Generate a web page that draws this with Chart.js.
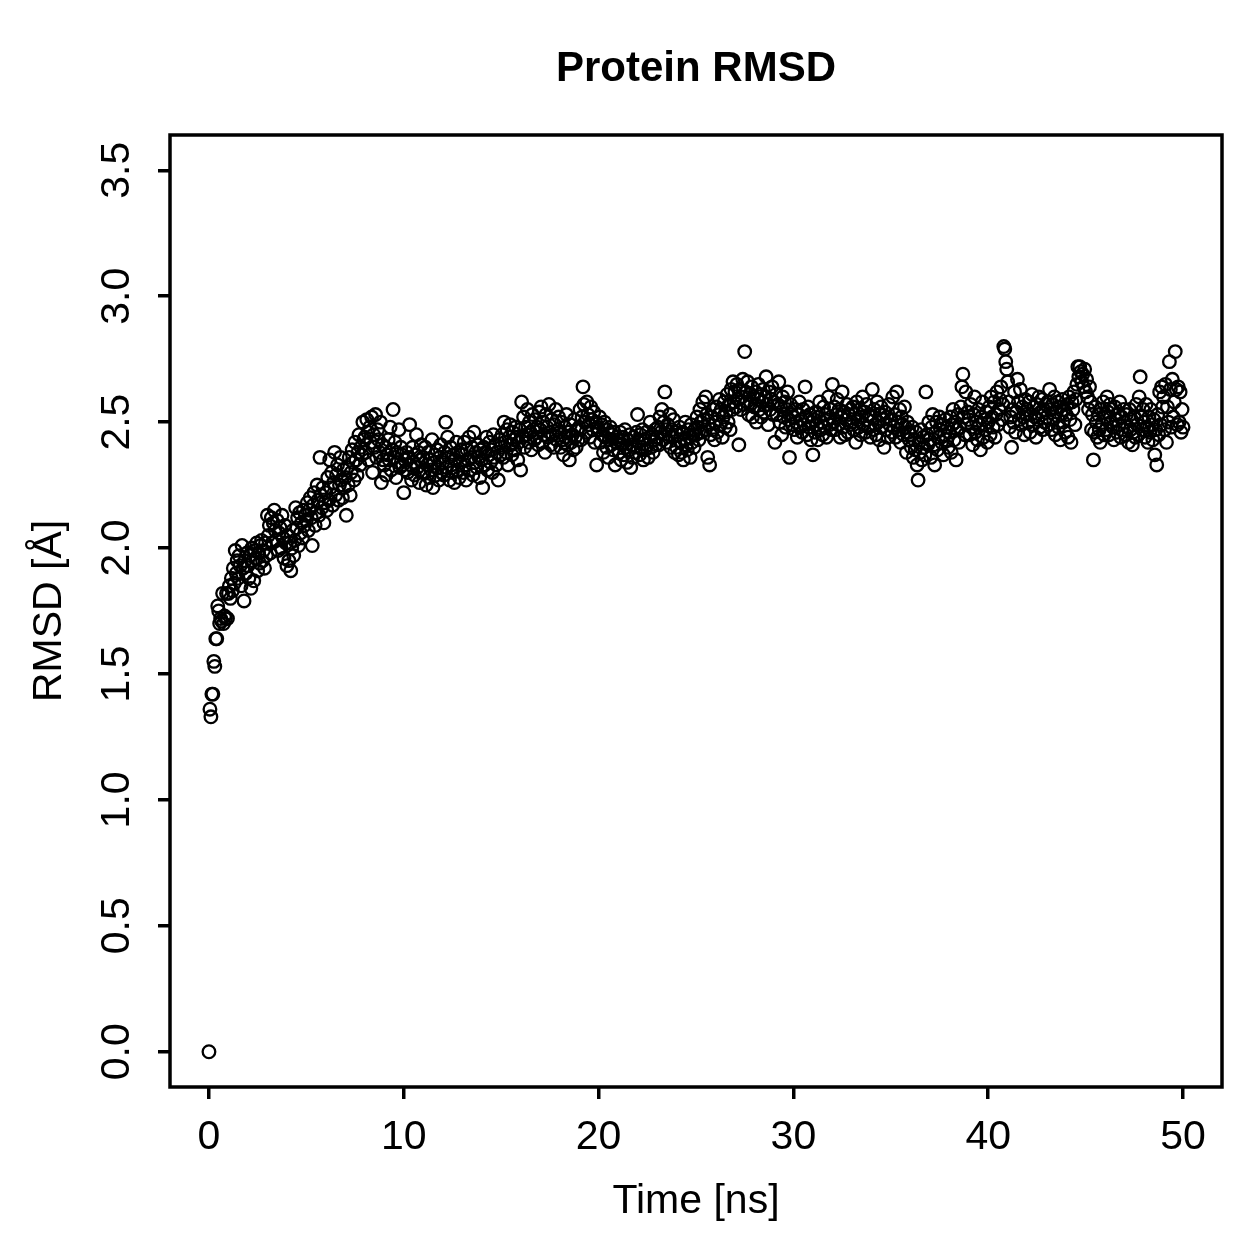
<!DOCTYPE html>
<html>
<head>
<meta charset="utf-8">
<script src="https://cdn.jsdelivr.net/npm/chart.js@4"></script>
<style>
  body { margin: 0; background: #fff; }
  #wrap { width: 1259px; height: 1259px; }
</style>
</head>
<body>
<div id="wrap"><canvas id="rmsdChart" width="1259" height="1259"></canvas></div>
<script>
// Protein RMSD trajectory, one frame every 0.05 ns
const timeStepNs = 0.05;

const rmsd0to10 = [
  0.00,1.36,1.33,1.42,1.42,1.55,1.53,1.64,1.64,1.77,1.75,1.70,1.72,1.71,1.82,1.70,1.73,1.72,1.82,1.72,
  1.82,1.85,1.80,1.88,1.83,1.92,1.86,1.99,1.90,1.95,1.88,1.97,1.93,1.85,2.01,1.92,1.79,1.95,1.90,1.98,
  1.93,1.88,1.97,1.84,2.00,1.95,1.87,1.99,1.96,2.02,1.91,1.98,1.94,2.01,2.03,1.95,1.99,1.92,2.02,1.97,
  2.13,2.05,2.09,1.98,2.12,2.02,2.10,2.15,2.07,2.03,2.11,1.99,2.06,2.08,2.00,2.13,2.04,1.96,2.09,2.02,
  1.93,2.05,1.95,2.02,1.91,2.00,2.07,1.97,2.03,2.16,2.08,2.12,2.01,2.14,2.06,2.10,2.04,2.15,2.09,2.13,
  2.11,2.18,2.07,2.15,2.20,2.12,2.01,2.17,2.22,2.09,2.14,2.25,2.19,2.13,2.36,2.21,2.16,2.24,2.10,2.18,
  2.22,2.15,2.28,2.19,2.35,2.24,2.30,2.17,2.26,2.38,2.21,2.29,2.33,2.19,2.25,2.36,2.27,2.20,2.31,2.24,
  2.28,2.13,2.32,2.25,2.36,2.21,2.30,2.39,2.34,2.27,2.42,2.35,2.29,2.38,2.45,2.33,2.40,2.37,2.50,2.43,
  2.44,2.38,2.51,2.46,2.35,2.48,2.42,2.52,2.30,2.45,2.40,2.53,2.36,2.47,2.43,2.38,2.50,2.26,2.41,2.35,
  2.33,2.40,2.29,2.37,2.43,2.35,2.48,2.31,2.39,2.55,2.36,2.42,2.28,2.38,2.34,2.47,2.32,2.40,2.37,2.33
];
const rmsd10to20 = [
  2.22,2.35,2.31,2.38,2.30,2.36,2.49,2.33,2.27,2.40,2.34,2.29,2.37,2.45,2.32,2.38,2.26,2.35,2.41,2.30,
  2.36,2.30,2.40,2.25,2.33,2.38,2.28,2.35,2.31,2.43,2.24,2.34,2.37,2.29,2.39,2.32,2.27,2.36,2.41,2.30,
  2.34,2.29,2.38,2.50,2.32,2.44,2.36,2.27,2.40,2.33,2.30,2.37,2.26,2.35,2.42,2.31,2.38,2.28,2.34,2.39,
  2.37,2.30,2.42,2.33,2.27,2.39,2.35,2.44,2.31,2.36,2.40,2.29,2.46,2.34,2.38,2.32,2.41,2.36,2.28,2.39,
  2.35,2.24,2.40,2.33,2.38,2.44,2.31,2.37,2.42,2.34,2.39,2.30,2.45,2.36,2.41,2.33,2.38,2.27,2.43,2.37,
  2.40,2.45,2.36,2.50,2.42,2.38,2.47,2.33,2.44,2.49,2.41,2.37,2.46,2.43,2.39,2.48,2.44,2.35,2.42,2.47,
  2.31,2.58,2.44,2.52,2.40,2.48,2.45,2.55,2.42,2.50,2.46,2.39,2.53,2.47,2.43,2.51,2.44,2.48,2.41,2.54,
  2.47,2.56,2.42,2.50,2.45,2.38,2.53,2.48,2.44,2.57,2.46,2.41,2.51,2.45,2.40,2.49,2.55,2.43,2.47,2.52,
  2.46,2.40,2.50,2.43,2.37,2.48,2.44,2.53,2.41,2.46,2.35,2.49,2.42,2.45,2.39,2.51,2.44,2.40,2.47,2.43,
  2.48,2.55,2.43,2.52,2.64,2.57,2.50,2.46,2.58,2.53,2.49,2.44,2.56,2.51,2.47,2.54,2.42,2.50,2.33,2.48
];
const rmsd20to30 = [
  2.47,2.52,2.42,2.49,2.45,2.38,2.50,2.44,2.40,2.47,2.36,2.43,2.48,2.41,2.45,2.39,2.46,2.33,2.42,2.44,
  2.43,2.38,2.46,2.35,2.41,2.44,2.37,2.47,2.40,2.34,2.43,2.39,2.45,2.32,2.41,2.36,2.44,2.40,2.38,2.46,
  2.53,2.42,2.37,2.45,2.40,2.47,2.35,2.43,2.39,2.46,2.41,2.36,2.44,2.50,2.40,2.45,2.38,2.43,2.47,2.41,
  2.44,2.48,2.41,2.52,2.46,2.55,2.43,2.50,2.62,2.47,2.42,2.49,2.45,2.53,2.40,2.47,2.44,2.51,2.38,2.46,
  2.40,2.45,2.37,2.48,2.42,2.38,2.46,2.35,2.43,2.50,2.41,2.39,2.47,2.44,2.36,2.49,2.42,2.45,2.40,2.47,
  2.45,2.52,2.48,2.43,2.55,2.50,2.46,2.58,2.51,2.47,2.60,2.53,2.36,2.49,2.33,2.45,2.52,2.47,2.55,2.43,
  2.50,2.56,2.46,2.53,2.59,2.49,2.55,2.44,2.52,2.58,2.48,2.54,2.61,2.50,2.57,2.47,2.63,2.55,2.66,2.58,
  2.62,2.56,2.65,2.59,2.41,2.63,2.55,2.60,2.67,2.57,2.78,2.62,2.58,2.66,2.53,2.61,2.57,2.64,2.52,2.60,
  2.56,2.62,2.50,2.59,2.65,2.55,2.61,2.52,2.58,2.63,2.54,2.60,2.68,2.57,2.49,2.62,2.55,2.59,2.64,2.53,
  2.58,2.42,2.61,2.53,2.57,2.66,2.50,2.56,2.45,2.60,2.52,2.58,2.48,2.55,2.62,2.51,2.36,2.57,2.53,2.49
];
const rmsd30to40 = [
  2.52,2.47,2.55,2.50,2.44,2.53,2.58,2.48,2.51,2.46,2.55,2.49,2.64,2.52,2.45,2.56,2.48,2.53,2.43,2.50,
  2.37,2.51,2.46,2.54,2.49,2.43,2.52,2.58,2.47,2.50,2.45,2.56,2.48,2.53,2.44,2.51,2.60,2.49,2.55,2.47,
  2.65,2.50,2.56,2.47,2.53,2.59,2.49,2.55,2.44,2.52,2.62,2.48,2.54,2.45,2.51,2.57,2.46,2.53,2.49,2.55,
  2.50,2.56,2.47,2.53,2.42,2.58,2.51,2.48,2.55,2.45,2.52,2.60,2.49,2.54,2.46,2.57,2.51,2.48,2.53,2.44,
  2.52,2.63,2.47,2.55,2.49,2.45,2.58,2.50,2.43,2.53,2.56,2.48,2.51,2.40,2.54,2.47,2.52,2.44,2.57,2.49,
  2.51,2.46,2.60,2.48,2.53,2.44,2.62,2.50,2.47,2.55,2.42,2.52,2.49,2.45,2.56,2.48,2.38,2.50,2.46,2.43,
  2.45,2.40,2.48,2.36,2.43,2.39,2.46,2.33,2.27,2.42,2.38,2.47,2.35,2.44,2.40,2.37,2.62,2.45,2.41,2.50,
  2.43,2.36,2.48,2.53,2.41,2.33,2.46,2.50,2.39,2.44,2.52,2.47,2.42,2.49,2.37,2.45,2.51,2.43,2.48,2.40,
  2.46,2.52,2.38,2.49,2.55,2.43,2.50,2.35,2.47,2.53,2.42,2.48,2.56,2.64,2.69,2.52,2.45,2.62,2.49,2.54,
  2.51,2.45,2.57,2.48,2.41,2.53,2.60,2.46,2.50,2.43,2.55,2.49,2.39,2.52,2.58,2.44,2.51,2.47,2.54,2.42
];
const rmsd40to50 = [
  2.50,2.56,2.45,2.60,2.52,2.48,2.58,2.44,2.53,2.62,2.49,2.55,2.59,2.64,2.51,2.57,2.80,2.79,2.74,2.71,
  2.66,2.58,2.48,2.52,2.40,2.55,2.50,2.62,2.46,2.54,2.67,2.58,2.51,2.63,2.49,2.56,2.52,2.45,2.59,2.53,
  2.55,2.50,2.58,2.46,2.53,2.61,2.49,2.56,2.52,2.44,2.57,2.51,2.60,2.48,2.54,2.59,2.47,2.55,2.50,2.57,
  2.52,2.58,2.49,2.63,2.55,2.47,2.57,2.51,2.60,2.45,2.54,2.58,2.48,2.56,2.43,2.53,2.59,2.50,2.55,2.46,
  2.53,2.57,2.44,2.60,2.51,2.42,2.58,2.55,2.62,2.49,2.59,2.65,2.72,2.68,2.72,2.70,2.66,2.69,2.64,2.71,
  2.62,2.67,2.60,2.55,2.64,2.58,2.47,2.53,2.35,2.46,2.56,2.50,2.44,2.53,2.47,2.42,2.55,2.49,2.58,2.45,
  2.52,2.47,2.60,2.54,2.45,2.57,2.50,2.55,2.48,2.43,2.56,2.51,2.46,2.53,2.49,2.58,2.44,2.52,2.47,2.55,
  2.50,2.45,2.53,2.48,2.42,2.55,2.47,2.51,2.41,2.46,2.52,2.44,2.57,2.49,2.45,2.60,2.68,2.52,2.47,2.55,
  2.50,2.44,2.57,2.48,2.42,2.52,2.46,2.55,2.49,2.43,2.51,2.37,2.47,2.33,2.53,2.45,2.62,2.49,2.64,2.56,
  2.60,2.47,2.65,2.42,2.56,2.50,2.74,2.63,2.48,2.67,2.52,2.58,2.78,2.63,2.49,2.64,2.50,2.62,2.46,2.55,
  2.48
];

const xTicks = [0, 10, 20, 30, 40, 50];
const yTicks = [0.0, 0.5, 1.0, 1.5, 2.0, 2.5, 3.0, 3.5];

const rmsd = [...rmsd0to10, ...rmsd10to20, ...rmsd20to30, ...rmsd30to40, ...rmsd40to50];
const points = rmsd.map((v, i) => ({ x: +(i * timeStepNs).toFixed(2), y: v }));

const FONT = '"Liberation Sans", Arial, Helvetica, sans-serif';

// frame, tick labels and titles in R base-graphics style
const rStylePlot = {
    id: 'rStylePlot',
    afterDraw(chart) {
        const { ctx, chartArea: a, scales: { x, y } } = chart;
        ctx.save();
        ctx.strokeStyle = '#000';
        ctx.lineWidth = 3.5;
        ctx.strokeRect(a.left, a.top, a.right - a.left, a.bottom - a.top);

        ctx.fillStyle = '#000';
        ctx.font = '41px ' + FONT;
        ctx.textAlign = 'center';
        ctx.textBaseline = 'middle';
        xTicks.forEach(v => ctx.fillText(String(v), x.getPixelForValue(v), 1138));
        yTicks.forEach(v => {
            ctx.save();
            ctx.translate(118, y.getPixelForValue(v));
            ctx.rotate(-Math.PI / 2);
            ctx.fillText(v.toFixed(1), 0, 0);
            ctx.restore();
        });

        const midX = (a.left + a.right) / 2;
        const midY = (a.top + a.bottom) / 2;
        ctx.fillText('Time [ns]', midX, 1202);
        ctx.save();
        ctx.translate(50, midY);
        ctx.rotate(-Math.PI / 2);
        ctx.fillText('RMSD [Å]', 0, 0);
        ctx.restore();

        ctx.font = 'bold 42px ' + FONT;
        ctx.fillText('Protein RMSD', midX, 69);
        ctx.restore();
    }
};

const chart = new Chart(document.getElementById('rmsdChart').getContext('2d'), {
    type: 'scatter',
    data: {
        datasets: [{
            data: points,
            showLine: false,
            pointStyle: 'circle',
            pointRadius: 6.3,
            pointBorderWidth: 2.3,
            pointBackgroundColor: 'rgba(0,0,0,0)',
            pointBorderColor: '#000'
        }]
    },
    options: {
        responsive: false,
        animation: false,
        layout: { padding: { top: 135, right: 37, left: 0, bottom: 0 } },
        scales: {
            x: {
                type: 'linear',
                min: -2,
                max: 52,
                afterFit(scale) { scale.height = 172; },
                afterBuildTicks(scale) { scale.ticks = xTicks.map(v => ({ value: v })); },
                grid: { drawOnChartArea: false, drawTicks: true, tickLength: 12, lineWidth: 3.5, tickWidth: 3.5, tickColor: '#000', color: '#000' },
                border: { display: false },
                ticks: { display: false }
            },
            y: {
                type: 'linear',
                min: -0.14,
                max: 3.64,
                afterFit(scale) { scale.width = 170; },
                afterBuildTicks(scale) { scale.ticks = yTicks.map(v => ({ value: v })); },
                grid: { drawOnChartArea: false, drawTicks: true, tickLength: 12, lineWidth: 3.5, tickWidth: 3.5, tickColor: '#000', color: '#000' },
                border: { display: false },
                ticks: { display: false }
            }
        },
        plugins: {
            legend: { display: false },
            tooltip: { enabled: false }
        }
    },
    plugins: [rStylePlot]
});
</script>
</body>
</html>
